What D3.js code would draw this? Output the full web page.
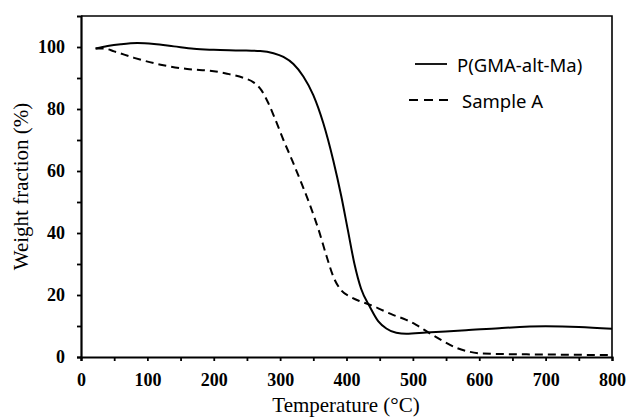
<!DOCTYPE html>
<html>
<head>
<meta charset="utf-8">
<script src="https://cdn.jsdelivr.net/npm/d3@7"></script>
<style>
	body { margin: 0; background: #fff; }
	svg { display: block; }
</style>
</head>
<body>
<div id="chart"></div>
<script>
// TGA curves
const polyTemp = [22, 40, 60, 85, 110, 140, 170, 200, 240, 270, 290, 305, 320, 335, 350, 365, 380, 392, 402, 412, 422, 435, 448, 460, 475, 490, 520, 580, 630, 700, 750, 800];
const polyWeight = [99.5, 100.3, 100.9, 101.3, 101.0, 100.2, 99.4, 99.1, 98.9, 98.7, 98.0, 96.8, 94.5, 90.5, 84.5, 75.5, 63.5, 52, 41, 30, 22, 16.3, 11.5, 9.2, 7.8, 7.5, 7.9, 8.6, 9.3, 9.9, 9.7, 9.1];
const sampleTemp = [22, 35, 50, 80, 120, 160, 200, 220, 245, 260, 272, 282, 292, 305, 318, 330, 345, 358, 370, 380, 392, 405, 420, 435, 455, 470, 490, 505, 525, 545, 565, 585, 605, 650, 700, 800];
const sampleWeight = [99.5, 99.5, 98.6, 96.5, 94.3, 92.9, 92.2, 91.4, 90, 88.6, 86, 82, 77, 70, 63.5, 57.2, 49, 41, 32.5, 26, 21.5, 19.5, 18, 16.9, 15, 13.6, 12, 10.4, 7.7, 5.2, 3, 1.7, 1.1, 0.9, 0.8, 0.6];
const seriesNames = ["P(GMA-alt-Ma)", "Sample A"];
const xTicks = d3.range(0, 801, 50);
const yTicks = d3.range(0, 101, 10);

const width = 629;
const height = 418;
const margin = { top: 16, right: 17, bottom: 61, left: 81 };
const w = width - margin.left - margin.right;
const h = height - margin.top - margin.bottom;

const svg = d3.select("#chart")
	.append("svg")
	.attr("width", width)
	.attr("height", height);
const g = svg.append("g")
	.attr("transform", `translate(${margin.left}, ${margin.top})`);

const x = d3.scaleLinear().domain([0, 800]).range([0, w]);
const y = d3.scaleLinear().domain([0, 110]).range([h, 0]);

// frame top + right
g.append("path")
	.attr("d", `M0,0H${w}V${h}`)
	.attr("fill", "none")
	.attr("stroke", "black")
	.attr("stroke-width", 1.6);

const tickFont = g => g.selectAll("text")
	.attr("font-family", "'Liberation Serif', 'Times New Roman', serif")
	.attr("font-weight", "bold")
	.attr("font-size", 18)
	.attr("fill", "black");

g.append("g")
	.attr("transform", `translate(0, ${h})`)
	.call(d3.axisBottom(x)
		.tickValues(xTicks)
		.tickSize(4)
		.tickPadding(12)
		.tickFormat(v => v % 100 === 0 ? v : ""))
	.call(a => a.select(".domain").attr("stroke-width", 2.2))
	.call(a => a.selectAll(".tick line").attr("stroke-width", 1.8))
	.call(tickFont);

g.append("g")
	.call(d3.axisLeft(y)
		.tickValues(yTicks)
		.tickSize(4)
		.tickPadding(12)
		.tickFormat(v => v % 20 === 0 ? v : ""))
	.call(a => a.select(".domain").attr("stroke-width", 2.2))
	.call(a => a.selectAll(".tick line").attr("stroke-width", 1.8))
	.call(tickFont);

// curves
const line = d3.line()
	.x(d => x(d[0]))
	.y(d => y(d[1]))
	.curve(d3.curveMonotoneX);

g.append("path")
	.datum(d3.zip(polyTemp, polyWeight))
	.attr("fill", "none")
	.attr("stroke", "black")
	.attr("stroke-width", 2)
	.attr("d", line);

g.append("path")
	.datum(d3.zip(sampleTemp, sampleWeight))
	.attr("fill", "none")
	.attr("stroke", "black")
	.attr("stroke-width", 2)
	.attr("stroke-dasharray", "8,5")
	.attr("d", line);

// axis titles
svg.append("text")
	.attr("x", 346)
	.attr("y", 412)
	.attr("text-anchor", "middle")
	.attr("font-family", "'Liberation Serif', 'Times New Roman', serif")
	.attr("font-size", 21)
	.text("Temperature (°C)");

svg.append("text")
	.attr("transform", `translate(28, ${margin.top + h / 2}) rotate(-90)`)
	.attr("text-anchor", "middle")
	.attr("font-family", "'Liberation Serif', 'Times New Roman', serif")
	.attr("font-size", 21)
	.text("Weight fraction (%)");

// legend
const legend = svg.append("g");
const legendRows = [
	{ name: seriesNames[0], x1: 415, x2: 447, y: 64, dash: null, tx: 457 },
	{ name: seriesNames[1], x1: 409, x2: 452, y: 100, dash: "9,6", tx: 462 },
];
for (const r of legendRows) {
	legend.append("line")
		.attr("x1", r.x1).attr("x2", r.x2)
		.attr("y1", r.y).attr("y2", r.y)
		.attr("stroke", "black")
		.attr("stroke-width", 1.8)
		.attr("stroke-dasharray", r.dash);
	legend.append("text")
		.attr("x", r.tx)
		.attr("y", r.y + 8)
		.attr("font-family", "'Noto Sans', 'DejaVu Sans', sans-serif")
		.attr("font-size", 18.5)
		.text(r.name);
}
</script>
</body>
</html>
